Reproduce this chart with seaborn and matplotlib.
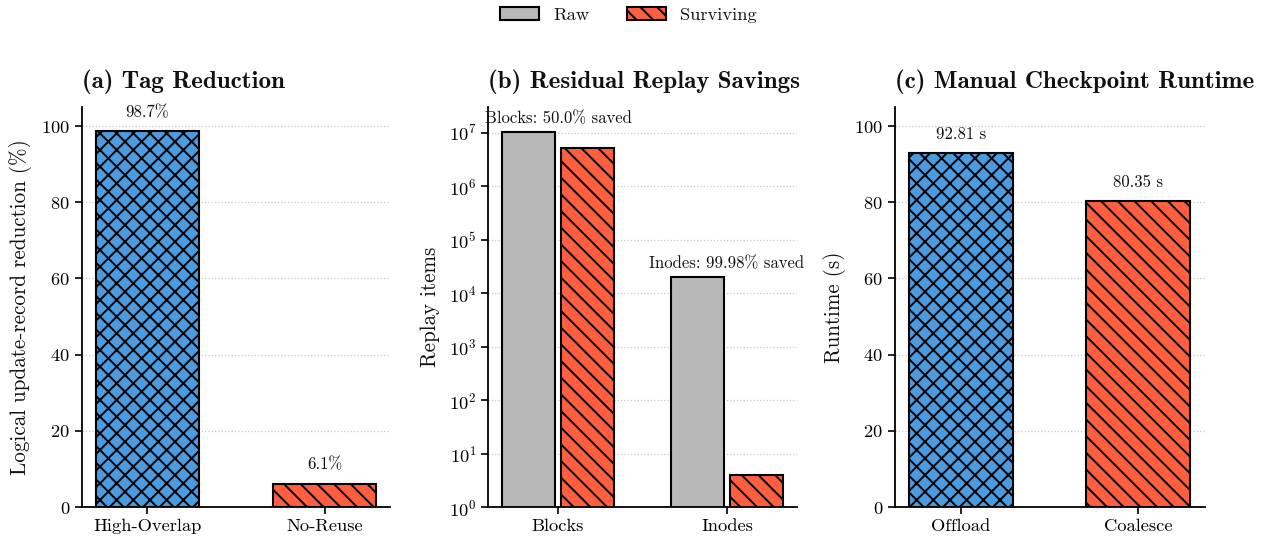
import matplotlib
matplotlib.use("Agg")
import matplotlib.pyplot as plt
import pandas as pd
import seaborn as sns
from matplotlib.patches import Patch
from matplotlib.ticker import LogLocator, NullLocator

# (a) tag reduction per workload
tag_workloads = ["High-Overlap", "No-Reuse"]
tag_reduction = [98.7, 6.1]

# (b) residual replay items, raw vs. surviving
replay_kinds = ["Blocks", "Inodes"]
replay_raw = [1.04e7, 2.0e4]
replay_surviving = [5.2e6, 4]

# (c) manual checkpoint runtime
ckpt_modes = ["Offload", "Coalesce"]
ckpt_runtime = [92.81, 80.35]

BLUE = "#4A9BE0"
RED = "#FF5F3F"
GRAY = "#B8B8B8"

sns.set_theme(style="ticks")
plt.rcParams.update({
    "font.family": ["cmr10"],
    "mathtext.fontset": "cm",
    "axes.formatter.use_mathtext": True,
    "axes.unicode_minus": False,
    "hatch.linewidth": 1.4,
    "axes.edgecolor": "black",
    "axes.linewidth": 1.3,
    "xtick.color": "black",
    "ytick.color": "black",
    "xtick.major.width": 1.2,
    "ytick.major.width": 1.2,
    "xtick.major.size": 5,
    "ytick.major.size": 5,
    "xtick.labelsize": 13.3,
    "ytick.labelsize": 13.3,
    "axes.labelsize": 15.2,
    "text.color": "#111111",
    "axes.labelcolor": "#111111",
})

TITLE_FONT = dict(family="cmb10", size=18)
ANNOT_SIZE = 12
EDGE_LW = 1.5
HATCH_BLUE = "xx"
HATCH_RED = "\\\\"

fig = plt.figure(figsize=(12.7, 5.42), dpi=100)
W, H = 1270, 542
bottom = (H - 507) / H
height = 400 / H
ax_a = fig.add_axes([82 / W, bottom, 308 / W, height])
ax_b = fig.add_axes([488 / W, bottom, 309 / W, height])
ax_c = fig.add_axes([895 / W, bottom, 310 / W, height])


def style_axes(ax):
    ax.yaxis.grid(True, linestyle=":", color="#c8c8c8", linewidth=0.9)
    ax.xaxis.grid(False)
    ax.set_axisbelow(True)
    sns.despine(ax=ax)
    ax.set_xlabel("")


# (a) Tag Reduction
df_a = pd.DataFrame({"workload": tag_workloads, "reduction": tag_reduction})
sns.barplot(data=df_a, x="workload", y="reduction", hue="workload",
            palette=[BLUE, RED], saturation=1, width=0.585, edgecolor="black",
            linewidth=EDGE_LW, legend=False, ax=ax_a)
for cont, hatch in zip(ax_a.containers, [HATCH_BLUE, HATCH_RED]):
    for bar in cont:
        bar.set_hatch(hatch)
for i, v in enumerate(tag_reduction):
    ax_a.annotate(f"{v}%", (i, v), xytext=(0, 8), textcoords="offset points",
                  ha="center", va="bottom", fontsize=ANNOT_SIZE)
ax_a.set_ylim(0, 105)
ax_a.set_xlim(-0.37, 1.37)
ax_a.set_yticks([0, 20, 40, 60, 80, 100])
ax_a.set_ylabel("Logical update-record reduction (%)", labelpad=7)
ax_a.set_title("(a) Tag Reduction", loc="left", pad=14, **TITLE_FONT)
style_axes(ax_a)

# (b) Residual Replay Savings
df_b = pd.DataFrame({
    "kind": replay_kinds * 2,
    "state": ["Raw"] * len(replay_kinds) + ["Surviving"] * len(replay_kinds),
    "items": replay_raw + replay_surviving,
})
ax_b.set_yscale("log")
sns.barplot(data=df_b, x="kind", y="items", hue="state",
            palette={"Raw": GRAY, "Surviving": RED}, saturation=1,
            width=0.7, gap=0.1, edgecolor="black", linewidth=EDGE_LW,
            legend=False, ax=ax_b)
for bar in ax_b.containers[1]:
    bar.set_hatch(HATCH_RED)
for i, (raw, surv) in enumerate(zip(replay_raw, replay_surviving)):
    saved = f"{(1 - surv / raw) * 100:.2f}"
    if saved.endswith("0"):
        saved = saved[:-1]
    ax_b.annotate(f"{replay_kinds[i]}: {saved}% saved", (i, max(raw, surv)),
                  xytext=(0, 4), textcoords="offset points",
                  ha="center", va="bottom", fontsize=ANNOT_SIZE)
ax_b.set_ylim(1, 3.0e7)
ax_b.set_xlim(-0.414, 1.414)
ax_b.yaxis.set_major_locator(LogLocator(base=10, numticks=12))
ax_b.yaxis.set_minor_locator(NullLocator())
ax_b.set_ylabel("Replay items", labelpad=6)
ax_b.set_title("(b) Residual Replay Savings", loc="left", pad=14, **TITLE_FONT)
style_axes(ax_b)

# (c) Manual Checkpoint Runtime
df_c = pd.DataFrame({"mode": ckpt_modes, "runtime": ckpt_runtime})
sns.barplot(data=df_c, x="mode", y="runtime", hue="mode",
            palette=[BLUE, RED], saturation=1, width=0.585, edgecolor="black",
            linewidth=EDGE_LW, legend=False, ax=ax_c)
for cont, hatch in zip(ax_c.containers, [HATCH_BLUE, HATCH_RED]):
    for bar in cont:
        bar.set_hatch(hatch)
for i, v in enumerate(ckpt_runtime):
    ax_c.annotate(f"{v:.2f} s", (i, v), xytext=(0, 8), textcoords="offset points",
                  ha="center", va="bottom", fontsize=ANNOT_SIZE)
ax_c.set_ylim(0, 105)
ax_c.set_xlim(-0.373, 1.38)
ax_c.set_yticks([0, 20, 40, 60, 80, 100])
ax_c.set_ylabel("Runtime (s)", labelpad=6)
ax_c.set_title("(c) Manual Checkpoint Runtime", loc="left", pad=14, **TITLE_FONT)
style_axes(ax_c)

handles = [
    Patch(facecolor=GRAY, edgecolor="black", linewidth=EDGE_LW, label="Raw"),
    Patch(facecolor=RED, edgecolor="black", linewidth=EDGE_LW, hatch=HATCH_RED,
          label="Surviving"),
]
fig.legend(handles=handles, loc="upper center", bbox_to_anchor=(0.495, 1.018),
           ncol=2, frameon=False, fontsize=13.3, handlelength=2.1,
           handletextpad=0.8, columnspacing=2.0)

fig.savefig("out.png", dpi=100)
